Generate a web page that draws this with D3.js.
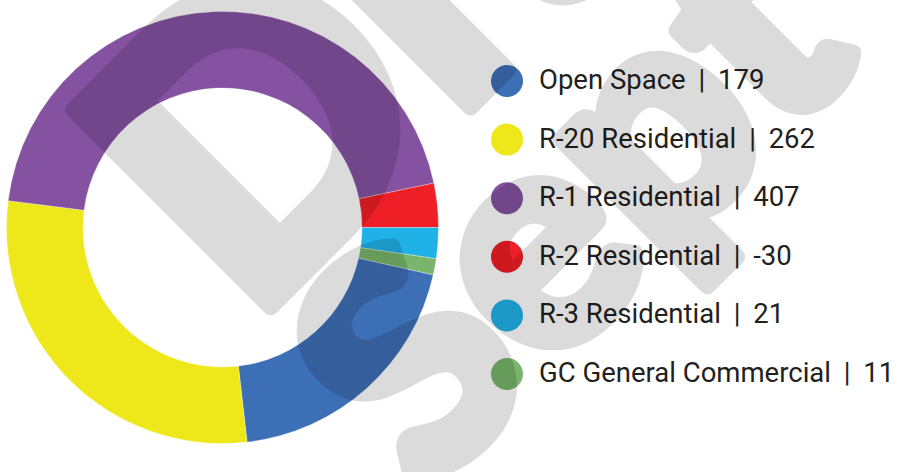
<!DOCTYPE html>
<html>
<head>
<meta charset="utf-8">
<script src="https://cdn.jsdelivr.net/npm/d3@7"></script>
<style>
  html, body { margin: 0; padding: 0; background: #fff; }
  svg { display: block; }
</style>
</head>
<body>
<div id="chart"></div>
<script>
const categories = ["Open Space", "R-20 Residential", "R-1 Residential", "R-2 Residential", "R-3 Residential", "GC General Commercial"]
const values = [179, 262, 407, -30, 21, 11]
const colors = ["#3d6fb6", "#eee81b", "#8452a1", "#ee1f26", "#20b2e6", "#79b56c"]

const width = 900
const height = 472
const cx = 222.5
const cy = 227.5
const outerR = 216
const innerR = 139.5

const svg = d3.select("#chart")
  .append("svg")
  .attr("width", width)
  .attr("height", height)
  .attr("viewBox", `0 0 ${width} ${height}`)

const data = categories.map((c, i) => ({ name: c, value: values[i], color: colors[i] }))

// R-2 slice ends at 3 o'clock, slices run clockwise in legend order
const total = d3.sum(values, Math.abs)
const before = d3.sum(values.slice(0, 4), Math.abs)
const start = Math.PI / 2 - before / total * 2 * Math.PI

const pie = d3.pie()
  .sort(null)
  .value(d => Math.abs(d.value))
  .startAngle(start)
  .endAngle(start + 2 * Math.PI)

const arc = d3.arc()
  .innerRadius(innerR)
  .outerRadius(outerR)

svg.append("g")
  .attr("transform", `translate(${cx},${cy})`)
  .selectAll("path")
  .data(pie(data))
  .enter()
  .append("path")
  .attr("d", arc)
  .attr("fill", d => d.data.color)
  .attr("stroke", "#fff")
  .attr("stroke-opacity", 0.5)
  .attr("stroke-width", 0.6)

// Legend
const y = d3.scalePoint()
  .domain(categories)
  .range([81, 374])

const legend = svg.append("g")

legend.selectAll("circle")
  .data(data)
  .enter()
  .append("circle")
  .attr("cx", 507)
  .attr("cy", d => y(d.name))
  .attr("r", 16)
  .attr("fill", d => d.color)

const labels = legend.selectAll("text")
  .data(data)
  .enter()
  .append("text")
  .attr("x", 539)
  .attr("y", d => y(d.name) + 8)
  .attr("fill", "#231f20")
  .attr("font-family", "Roboto, 'Noto Sans', sans-serif")
  .attr("font-size", "27.5px")

labels.append("tspan").text(d => d.name + " ")
labels.append("tspan").attr("dx", 6).text("|")
labels.append("tspan").attr("dx", 6).text(d => " " + d.value)

// Watermark on top (stroke thickens the glyphs, group opacity avoids double tint)
const mark = svg.append("g")
  .attr("opacity", 0.137)
  .attr("fill", "#000")
  .attr("stroke", "#000")
  .attr("stroke-width", 16)
  .attr("stroke-linejoin", "round")
  .attr("font-family", "Lato, Inter, 'DejaVu Sans', sans-serif")
  .attr("font-weight", 900)

mark.append("text")
  .attr("transform", "translate(250,328) rotate(-45)")
  .attr("font-size", "385px")
  .text("Draft")

mark.append("text")
  .attr("transform", "translate(425,497) rotate(-45)")
  .attr("font-size", "305px")
  .text("Sept")
</script>
</body>
</html>
